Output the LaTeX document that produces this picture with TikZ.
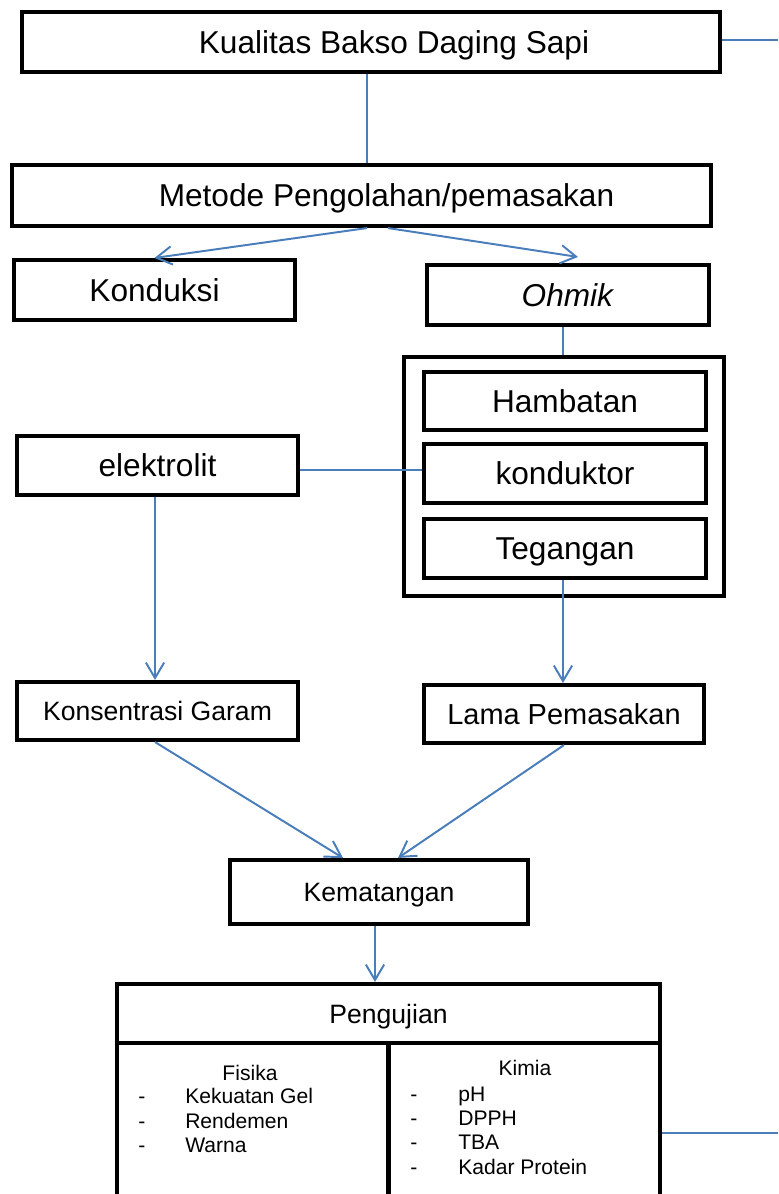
\documentclass[tikz,border=0pt]{standalone}
\usepackage{fontspec}
\setmainfont{Liberation Sans}
\usepackage{tikz}
\usetikzlibrary{positioning}
\usetikzlibrary{arrows.meta}

\definecolor{garisbiru}{RGB}{74,126,187}

\newcommand{\hurufbesar}{\fontsize{22.5}{27}\selectfont}
\newcommand{\hurufsedang}{\fontsize{18.9}{22.7}\selectfont}
\newcommand{\hurufkecil}{\fontsize{15}{17.4}\selectfont}

\tikzset{
	kotak/.style={draw, rectangle, line width=2.9pt, inner sep=0pt},
	besar/.style={kotak, font=\hurufbesar, text height=16.1pt, text depth=0pt},
	sedang/.style={kotak, font=\hurufsedang, text height=13.5pt, text depth=0pt},
	hubung/.style={draw=garisbiru, line width=1.4pt},
	panah/.style={hubung, -{Straight Barb[length=11pt,width=13pt]}},
	isian/.style={font=\hurufkecil, inner sep=0pt},
}

\begin{document}
\begin{tikzpicture}
		
		% ---------------------
		% Proper size --- Bounding box
		\useasboundingbox (0.00cm, -29.85cm) rectangle (19.45cm, 0.00cm);
		
		% ---------------------
		% Free ends at the right border
		\coordinate (TepiAtas) at (19.45cm, -1.00cm);
		\coordinate (TepiBawah) at (19.45cm, -28.325cm);
		
		% ---------------------
		% Top of the scheme
		\node[besar, minimum width=17.45cm, minimum height=1.50cm] (Kualitas) at (9.275cm, -1.05cm) {\hspace*{1.15cm}Kualitas Bakso Daging Sapi};
		\node[besar, minimum width=17.475cm, minimum height=1.525cm] (Metode) at (9.0375cm, -4.8875cm) {\hspace*{1.25cm}Metode Pengolahan/pemasakan};
		
		\node[besar, minimum width=7.025cm, minimum height=1.50cm] (Konduksi) at (3.8625cm, -7.25cm) {Konduksi};
		\node[besar, minimum width=7.05cm, minimum height=1.50cm] (Ohmik) at (14.20cm, -7.375cm) {\textit{Ohmik}};
		
		% ---------------------
		% Ohmic block
		\node[kotak, minimum width=8.00cm, minimum height=5.975cm] (Wadah) at (14.10cm, -11.9125cm) {};
		\node[besar, minimum width=7.05cm, minimum height=1.45cm] (Hambatan) at (14.125cm, -10.025cm) {Hambatan};
		\node[besar, minimum width=7.05cm, minimum height=1.475cm] (Konduktor) at (14.125cm, -11.8375cm) {konduktor};
		\node[besar, minimum width=7.05cm, minimum height=1.475cm] (Tegangan) at (14.125cm, -13.7125cm) {Tegangan};
		
		\node[besar, minimum width=7.025cm, minimum height=1.475cm] (Elektrolit) at (3.9375cm, -11.6375cm) {elektrolit};
		
		% ---------------------
		% Factors & result
		\node[sedang, minimum width=7.025cm, minimum height=1.45cm] (Garam) at (3.9375cm, -17.775cm) {Konsentrasi Garam};
		\node[kotak, font=\fontsize{20.6}{24.7}\selectfont, text height=14.75pt, text depth=0pt, minimum width=7.00cm, minimum height=1.45cm] (Lama) at (14.10cm, -17.85cm) {Lama Pemasakan};
		
		\node[sedang, minimum width=7.45cm, minimum height=1.60cm] (Matang) at (9.475cm, -22.30cm) {Kematangan};
		
		% ---------------------
		% Tests
		\node[sedang, minimum width=13.575cm, minimum height=1.475cm] (Uji) at (9.7125cm, -25.3375cm) {Pengujian};
		\node[kotak, minimum width=13.575cm, minimum height=4.50cm] (Tabel) at (9.7125cm, -28.325cm) {};
		\draw[line width=2.9pt] (Tabel.north) -- (Tabel.south);
		
		\node[isian, anchor=base] (FisikaJudul) at (6.25cm, -27.00cm) {Fisika};
		\node[isian, anchor=base west] (FisikaIsi) at (3.45cm, -27.59cm) {\begin{tabular}[t]{@{}p{1.175cm}@{}l@{}}
				- & Kekuatan Gel\\
				- & Rendemen\\
				- & Warna
			\end{tabular}};
		
		\node[isian, anchor=base] (KimiaJudul) at (13.125cm, -26.875cm) {Kimia};
		\node[isian, anchor=base west] (KimiaIsi) at (10.25cm, -27.525cm) {\begin{tabular}[t]{@{}p{1.20cm}@{}l@{}}
				- & pH\\
				- & DPPH\\
				- & TBA\\
				- & Kadar Protein
			\end{tabular}};
		
		% ---------------------
		% Connectors
		\draw[hubung] (Kualitas.east |- TepiAtas) -- (TepiAtas);
		\draw[hubung] ([xshift=-0.10cm]Kualitas.south) -- ([xshift=-0.10cm]Kualitas.south |- Metode.north);
		
		\draw[panah] ([xshift=0.14cm]Metode.south) -- (Konduksi.north);
		\draw[panah] ([xshift=0.66cm]Metode.south) -- ([xshift=0.25cm, yshift=0.15cm]Ohmik.north);
		
		\draw[hubung] ([xshift=-0.125cm]Ohmik.south) -- ([xshift=-0.125cm]Ohmik.south |- Wadah.north);
		\draw[hubung] ([yshift=-0.1125cm]Elektrolit.east) -- ([yshift=-0.1125cm]Elektrolit.east -| Konduktor.west);
		
		\draw[panah] ([xshift=-0.0625cm]Elektrolit.south) -- ([xshift=-0.0625cm]Elektrolit.south |- Garam.north);
		\draw[panah] ([xshift=-0.05cm]Tegangan.south) -- ([xshift=-0.05cm]Tegangan.south |- Lama.north);
		
		\draw[panah] ([xshift=-0.0625cm]Garam.south) -- ([xshift=-0.90cm]Matang.north);
		\draw[panah] (Lama.south) -- ([xshift=0.475cm]Matang.north);
		\draw[panah] ([xshift=-0.10cm]Matang.south) -- ([xshift=-0.10cm]Matang.south |- Uji.north);
		
		\draw[hubung] (Tabel.east) -- (TepiBawah);
		
\end{tikzpicture}
\end{document}
